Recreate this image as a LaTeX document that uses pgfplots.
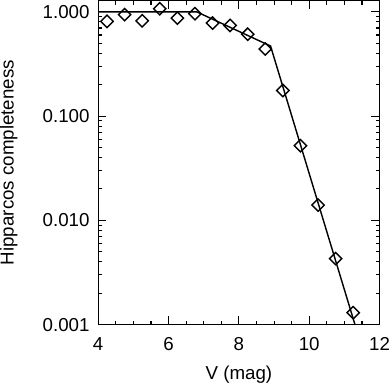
\documentclass[border=0pt]{standalone}
\usepackage{fontspec}
\setmainfont{Liberation Sans}
\usepackage{pgfplots}
\pgfplotsset{compat=1.18}

\begin{document}
\begin{tikzpicture}
  \begin{semilogyaxis}[
    scale only axis,
    width=278pt, height=320pt,
    xmin=4, xmax=12, ymin=0.001, ymax=1.28,
    xtick={4,6,8,10,12},
    minor x tick num=3,
    ytick={0.001,0.01,0.1,1},
    yticklabels={0.001,0.010,0.100,1.000},
    tick align=inside,
    major tick length=8pt, minor tick length=4pt,
    every tick/.style={black, line width=1.1pt},
    axis line style={line width=1.3pt},
    font=\fontsize{18.5}{22}\selectfont,
    /pgf/number format/assume math mode=true,
    xlabel={V (mag)}, ylabel={Hipparcos completeness},
    every axis x label/.style={at={(axis description cs:0.5,-0.169)},
                               anchor=base, inner sep=0pt},
    every axis y label/.style={at={(axis description cs:-0.318,0.5)},
                               rotate=90, anchor=center, inner sep=0pt},
    yticklabel style={xshift=-5pt},
    xticklabel style={yshift=-9pt, inner xsep=0pt},
  ]
    \addplot[black, line width=1.4pt] coordinates {
      (4,1.0) (6.8,1.0) (8.9,0.47) (11.3,0.001)};
    \addplot[only marks, mark=square, mark size=4.3pt,
             mark options={rotate=45, line width=1.4pt, fill=none}, black]
      coordinates {
        (4.25,0.81) (4.75,0.94) (5.25,0.82) (5.75,1.07) (6.25,0.87)
        (6.75,0.96) (7.25,0.78) (7.75,0.74) (8.25,0.61) (8.75,0.44)
        (9.25,0.176) (9.75,0.052) (10.25,0.014) (10.75,0.0043) (11.25,0.0013)};
  \end{semilogyaxis}
\end{tikzpicture}
\end{document}
